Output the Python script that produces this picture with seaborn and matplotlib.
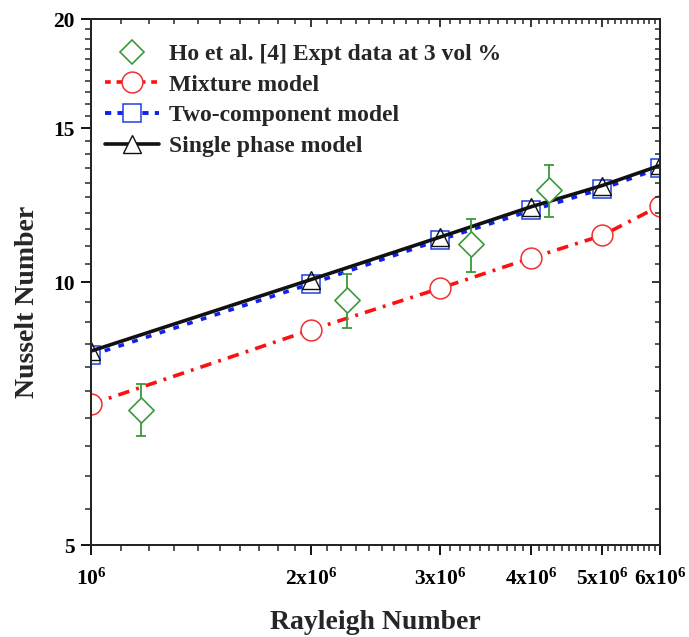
import matplotlib
matplotlib.use("Agg")
import matplotlib.pyplot as plt
import numpy as np
import seaborn as sns
from matplotlib.lines import Line2D
from matplotlib.ticker import FixedLocator, FixedFormatter, NullFormatter

# Nusselt number vs Rayleigh number (log-log)
ra = [1e6, 2e6, 3e6, 4e6, 5e6, 6e6]
nu_mixture = [7.25, 8.82, 9.84, 10.66, 11.31, 12.23]
nu_two_comp = [8.25, 9.96, 11.18, 12.08, 12.79, 13.51]
nu_single = [8.34, 10.07, 11.26, 12.20, 12.90, 13.60]

ra_expt = [1.17e6, 2.24e6, 3.31e6, 4.23e6]
nu_expt = [7.15, 9.54, 11.05, 12.75]
nu_expt_err = [0.49, 0.67, 0.77, 0.88]

x_ticks = [1e6, 2e6, 3e6, 4e6, 5e6, 6e6]
x_labels = ["10$^6$", "2x10$^6$", "3x10$^6$", "4x10$^6$", "5x10$^6$", "6x10$^6$"]
y_ticks = [5, 10, 15, 20]
y_labels = ["5", "10", "15", "20"]

sns.set_theme(style="ticks")
plt.rcParams["font.family"] = ["Liberation Serif", "DejaVu Serif"]
plt.rcParams["font.weight"] = "bold"
plt.rcParams["mathtext.fontset"] = "custom"
plt.rcParams["mathtext.rm"] = "Liberation Serif:bold"
plt.rcParams["mathtext.default"] = "rm"

RED, BLUE, BLACK, GREEN = "#ff1010", "#1020ee", "#111111", "#3a9a3a"

fig = plt.figure(figsize=(6.89, 6.37), dpi=100)
ax = fig.add_axes([0.132, 0.144, 0.826, 0.826])

sns.lineplot(x=ra, y=nu_mixture, ax=ax, color=RED, lw=2.6,
             linestyle=(0, (3.2, 2.0, 0.8, 2.0)), marker="o", markersize=15,
             markerfacecolor="white", markeredgecolor="#f03030", markeredgewidth=1.1)
sns.lineplot(x=ra, y=nu_two_comp, ax=ax, color=BLUE, lw=2.6,
             linestyle=(0, (1.6, 2.4)), marker="s", markersize=13,
             markerfacecolor="white", markeredgecolor="#2040e0", markeredgewidth=1.1)
sns.lineplot(x=ra, y=nu_single, ax=ax, color=BLACK, lw=2.6, marker="^",
             markersize=13, markerfacecolor="none", markeredgecolor=BLACK,
             markeredgewidth=1.0)
ax.errorbar(ra_expt, nu_expt, yerr=nu_expt_err, fmt="none", ecolor=GREEN,
            elinewidth=1.3, capsize=3.5, capthick=1.3, zorder=4)
sns.scatterplot(x=ra_expt, y=nu_expt, ax=ax, marker="D", s=165,
                facecolor="white", edgecolor=GREEN, linewidth=1.2, zorder=5)

ax.set_xscale("log")
ax.set_yscale("log")
ax.set_xlim(1e6, 6e6)
ax.set_ylim(5, 20)

x_minor = [v for v in np.arange(1.1e6, 6e6, 1e5) if round(v / 1e5) % 10 != 0]
y_minor = [v for v in np.arange(5.5, 20, 0.5) if v % 5 != 0]

ax.xaxis.set_major_locator(FixedLocator(x_ticks))
ax.xaxis.set_major_formatter(FixedFormatter(x_labels))
ax.xaxis.set_minor_locator(FixedLocator(x_minor))
ax.xaxis.set_minor_formatter(NullFormatter())
ax.yaxis.set_major_locator(FixedLocator(y_ticks))
ax.yaxis.set_major_formatter(FixedFormatter(y_labels))
ax.yaxis.set_minor_locator(FixedLocator(y_minor))
ax.yaxis.set_minor_formatter(NullFormatter())

ax.tick_params(which="major", direction="out", length=7.5, width=1.3,
               labelsize=15.5, colors="black", pad=4)
ax.tick_params(axis="x", which="major", pad=9.5)
ax.tick_params(which="minor", direction="out", length=4, width=1.1)
for s in ax.spines.values():
    s.set_linewidth(1.4)
    s.set_color("black")

# mirrored ticks on top / right, pointing inward
top = ax.twiny()
top.set_xscale("log")
top.set_xlim(ax.get_xlim())
top.xaxis.set_major_locator(FixedLocator(x_ticks))
top.xaxis.set_minor_locator(FixedLocator(x_minor))
top.xaxis.set_major_formatter(NullFormatter())
top.xaxis.set_minor_formatter(NullFormatter())
top.tick_params(which="major", direction="in", length=5.5, width=1.3)
top.tick_params(which="minor", direction="in", length=3.5, width=1.1)
right = ax.twinx()
right.set_yscale("log")
right.set_ylim(ax.get_ylim())
right.yaxis.set_major_locator(FixedLocator(y_ticks))
right.yaxis.set_minor_locator(FixedLocator(y_minor))
right.yaxis.set_major_formatter(NullFormatter())
right.yaxis.set_minor_formatter(NullFormatter())
right.tick_params(which="major", direction="in", length=5.5, width=1.3)
right.tick_params(which="minor", direction="in", length=3.5, width=1.1)

ax.set_xlabel("Rayleigh Number", fontsize=20, fontweight="bold", labelpad=14)
ax.set_ylabel("Nusselt Number", fontsize=20, fontweight="bold")
ax.yaxis.set_label_coords(-0.09, 0.462)

handles = [
    Line2D([], [], ls="none", marker="D", markersize=12.5, markerfacecolor="white",
           markeredgecolor=GREEN, markeredgewidth=1.2),
    Line2D([], [], color=RED, lw=2.6, ls=(0, (1.6, 1.6)), marker="o", markersize=15,
           markerfacecolor="white", markeredgecolor="#f03030", markeredgewidth=1.1),
    Line2D([], [], color=BLUE, lw=2.8, ls=(0, (1.6, 1.6)), marker="s", markersize=13,
           markerfacecolor="white", markeredgecolor="#2040e0", markeredgewidth=1.1),
    Line2D([], [], color=BLACK, lw=2.6, marker="^", markersize=13,
           markerfacecolor="white", markeredgecolor=BLACK, markeredgewidth=1.0),
]
labels = ["Ho et al. [4] Expt data at 3 vol %", "Mixture model",
          "Two-component model", "Single phase model"]
right.legend(handles, labels, loc="upper left", bbox_to_anchor=(0.008, 0.972),
             borderaxespad=0, frameon=False, handlelength=2.3,
             handletextpad=0.4, labelspacing=0.39, prop={"weight": "bold", "size": 17})

fig.savefig("out.png", dpi=100)
